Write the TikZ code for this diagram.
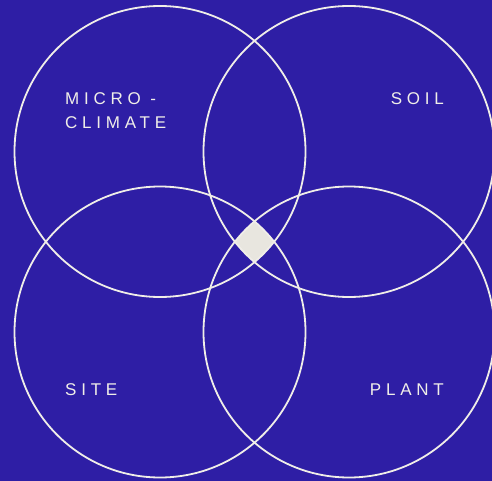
\documentclass[tikz,border=0pt]{standalone}
\usepackage{fontspec}
\setmainfont{Liberation Sans}
\definecolor{bgblue}{RGB}{46,30,165}
\definecolor{ringcol}{RGB}{240,238,232}
\definecolor{corecol}{RGB}{232,230,223}
\tikzset{
    ring/.style={draw=ringcol,line width=1.8pt},
    lbl/.style={text=ringcol,font=\addfontfeature{LetterSpace=28}\fontsize{17}{24}\selectfont,inner sep=0pt,align=left}
}
\begin{document}
\begin{tikzpicture}[x=1pt,y=-1pt]
    \fill[bgblue] (0,0) rectangle (492,481);
    \useasboundingbox (0,0) rectangle (492,481);
    % common core of the four circles
    \begin{scope}
        \clip (160,151.5) circle (145.5);
        \clip (349,151.5) circle (145.5);
        \clip (160,332) circle (145.5);
        \fill[corecol] (349,332) circle (145.5);
    \end{scope}
    \draw[ring] (160,151.5) circle (145.5);
    \draw[ring] (349,151.5) circle (145.5);
    \draw[ring] (160,332) circle (145.5);
    \draw[ring] (349,332) circle (145.5);
    \node[lbl,anchor=base west] (micro) at (65,105) {MICRO -};
    \node[lbl,anchor=base west] (climate) at (65,129) {CLIMATE};
    \node[lbl,anchor=base east] (soil) at (444,105) {SOIL};
    \node[lbl,anchor=base west] (site) at (65,395) {SITE};
    \node[lbl,anchor=base east] (plant) at (444,395) {PLANT};
\end{tikzpicture}
\end{document}
